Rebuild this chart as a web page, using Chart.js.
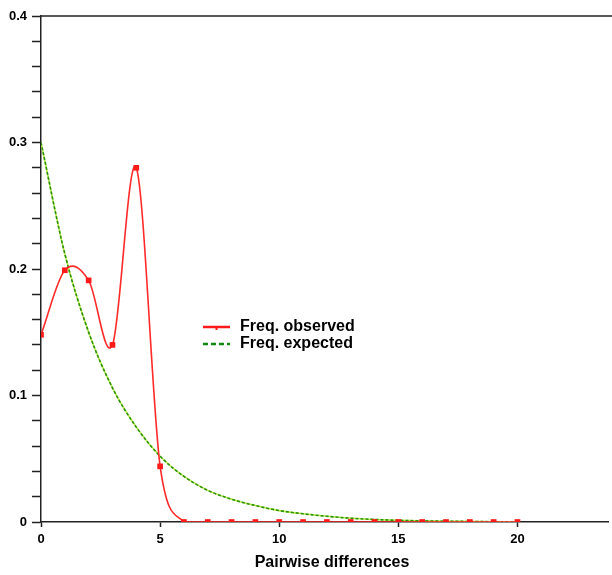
<!DOCTYPE html>
<html>
<head>
<meta charset="utf-8">
<script src="https://cdn.jsdelivr.net/npm/chart.js@4/dist/chart.umd.min.js"></script>
<style>
  html, body { margin: 0; padding: 0; background: #fff; }
  #wrap { width: 612px; height: 575px; position: relative; }
</style>
</head>
<body>
<div id="wrap"><canvas id="c" width="612" height="575"></canvas></div>
<script>
// ---- data ----
const differences = [0,1,2,3,4,5,6,7,8,9,10,11,12,13,14,15,16,17,18,19,20];
const freqObserved = [0.148,0.199,0.191,0.140,0.280,0.044,0,0,0,0,0,0,0,0,0,0,0,0,0,0,0];
const freqExpected = [0.300,0.212,0.150,0.106,0.075,0.052,0.036,0.025,0.018,0.013,0.009,0.0065,0.0045,0.003,0.002,0.0013,0.0009,0.0006,0.0004,0.0002,0.0001];
const xTickValues = [0,5,10,15,20];
const seriesLabels = ['Freq. observed','Freq. expected'];
const xTitle = 'Pairwise differences';

const FONT = "'Liberation Sans', Arial, Helvetica, sans-serif";
Chart.defaults.font.family = FONT;
Chart.defaults.color = '#000';

const pts = (ys) => differences.map((x, i) => ({x: x, y: ys[i]}));

// uniform Catmull-Rom control points (computed from the library's own pixel positions)
const smoothCurves = {
  id: 'smoothCurves',
  beforeDatasetDraw(chart, args) {
    const meta = args.meta, line = meta.dataset;
    if (!line || !line.updateControlPoints) return;
    const a = chart.chartArea;
    line.updateControlPoints(a, 'x');
    const p = meta.data, n = p.length;
    const clampY = (y) => Math.max(a.top, Math.min(a.bottom, y));
    for (let i = 0; i < n; i++) {
      const prev = i > 0 ? p[i - 1] : {x: 2 * p[0].x - p[1].x, y: 2 * p[0].y - p[1].y};
      const next = i < n - 1 ? p[i + 1] : {x: 2 * p[n - 1].x - p[n - 2].x, y: 2 * p[n - 1].y - p[n - 2].y};
      const dx = (next.x - prev.x) / 6, dy = (next.y - prev.y) / 6;
      p[i].cp1x = p[i].x - dx; p[i].cp1y = clampY(p[i].y - dy);
      p[i].cp2x = p[i].x + dx; p[i].cp2y = clampY(p[i].y + dy);
    }
    line._path = undefined;
  }
};

const frameAndLegend = {
  id: 'frameAndLegend',
  afterDraw(chart) {
    const ctx = chart.ctx, a = chart.chartArea;
    ctx.save();
    // top frame line
    ctx.strokeStyle = '#222';
    ctx.lineWidth = 1.5;
    ctx.beginPath();
    ctx.moveTo(a.left, a.top);
    ctx.lineTo(chart.width, a.top);
    ctx.stroke();
    // legend
    const lx = 203, ly = 327, gap = 17, len = 27;
    ctx.lineWidth = 2.5;
    ctx.strokeStyle = '#ff1a1a';
    ctx.beginPath(); ctx.moveTo(lx, ly); ctx.lineTo(lx + len, ly); ctx.stroke();
    ctx.fillStyle = '#ff1a1a';
    ctx.fillRect(lx + len/2 - 1, ly, 2, 3);
    ctx.strokeStyle = '#118811';
    ctx.setLineDash([5, 3]);
    ctx.beginPath(); ctx.moveTo(lx, ly + gap); ctx.lineTo(lx + len, ly + gap); ctx.stroke();
    ctx.setLineDash([]);
    ctx.fillStyle = '#000';
    ctx.font = 'bold 16px ' + FONT;
    ctx.textBaseline = 'middle';
    ctx.textAlign = 'left';
    ctx.fillText(seriesLabels[0], 240, ly);
    ctx.fillText(seriesLabels[1], 240, ly + gap);
    // x-axis title
    ctx.font = 'bold 16px ' + FONT;
    ctx.textAlign = 'center';
    ctx.fillText(xTitle, 332, 563);
    ctx.restore();
  }
};

new Chart(document.getElementById('c'), {
  type: 'line',
  data: {
    datasets: [
      {
        label: seriesLabels[0],
        data: pts(freqObserved),
        borderColor: '#ff2a2a',
        backgroundColor: '#ff1a1a',
        borderWidth: 1.6,
        tension: 0.3,
        pointStyle: 'rect',
        pointRadius: 4,
        pointBorderWidth: 0,
        fill: false
      },
      {
        label: seriesLabels[1],
        data: pts(freqExpected),
        borderColor: '#2a8f12',
        borderWidth: 1.6,
        borderDash: [3, 2],
        tension: 0.3,
        pointRadius: 0,
        fill: false
      },
      {
        label: '_underlay',
        data: pts(freqExpected),
        borderColor: '#b8ea40',
        borderWidth: 1.6,
        tension: 0.3,
        pointRadius: 0,
        fill: false
      }
    ]
  },
  options: {
    responsive: false,
    animation: false,
    devicePixelRatio: 1,
    layout: { padding: { top: 16, right: 0, bottom: 0, left: 0 } },
    plugins: {
      legend: { display: false },
      tooltip: { enabled: false }
    },
    scales: {
      x: {
        type: 'linear',
        min: 0,
        max: 23.8,
        afterBuildTicks(scale) { scale.ticks = xTickValues.map(v => ({value: v})); },
        afterFit(scale) { scale.height = 53; },
        border: { display: true, color: '#222', width: 1.5 },
        grid: { drawOnChartArea: false, drawTicks: true, tickLength: 5, tickColor: '#222', tickWidth: 1.5 },
        ticks: {
          autoSkip: false,
          maxRotation: 0,
          padding: 5,
          color: '#000',
          font: { size: 13, weight: 'bold' },
          callback: (v) => String(v)
        },
        title: { display: false }
      },
      y: {
        type: 'linear',
        min: 0,
        max: 0.4,
        afterFit(scale) { scale.width = 41; },
        border: { display: true, color: '#222', width: 1.5 },
        grid: { drawOnChartArea: false, drawTicks: true, tickLength: 9, tickColor: '#222', tickWidth: 1.5 },
        ticks: {
          stepSize: 0.02,
          autoSkip: false,
          padding: 5,
          color: '#000',
          font: { size: 13, weight: 'bold' },
          callback: (v) => {
            const k = Math.round(v * 100);
            if (k % 10 !== 0) return '';
            return k === 0 ? '0' : (k / 100).toFixed(1);
          }
        }
      }
    }
  },
  plugins: [smoothCurves, frameAndLegend]
});
</script>
</body>
</html>
